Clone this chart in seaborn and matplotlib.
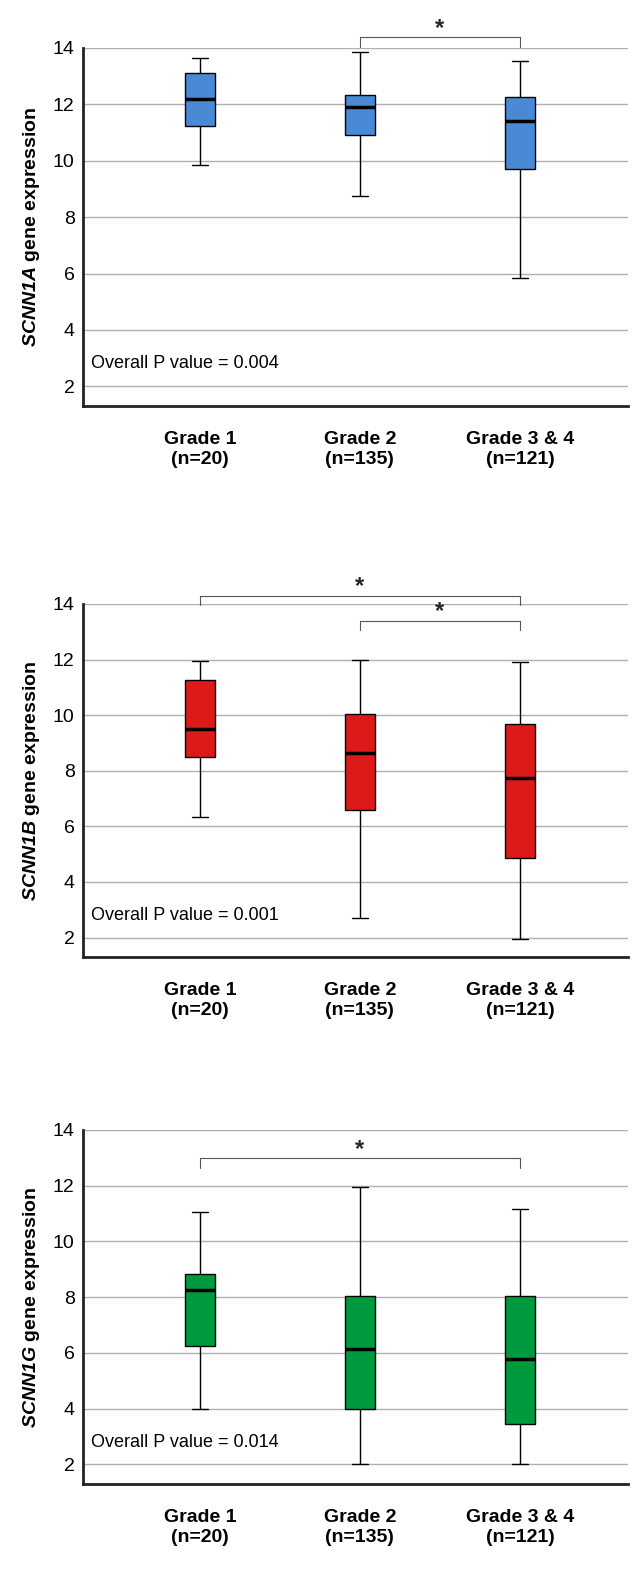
import numpy as np
import pandas as pd
import matplotlib
matplotlib.use("Agg")
import matplotlib.pyplot as plt
import seaborn as sns

sns.set_theme(style="white")
plt.rcParams['font.family'] = ['Liberation Sans', 'DejaVu Sans']
plt.rcParams['mathtext.fontset'] = 'custom'
plt.rcParams['mathtext.it'] = 'Liberation Sans:italic:bold'
plt.rcParams['mathtext.rm'] = 'Liberation Sans:italic:bold'

grades = ["Grade 1\n(n=20)", "Grade 2\n(n=135)", "Grade 3 & 4\n(n=121)"]
genes = ["SCNN1A", "SCNN1B", "SCNN1G"]
colors = ["#4a8ad4", "#dc1a1a", "#009a3e"]
p_values = ["0.004", "0.001", "0.014"]

# five-number summaries: min, q1, median, q3, max
scnn1a = [[9.85, 11.25, 12.2, 13.1, 13.65],
          [8.75, 10.9, 11.9, 12.35, 13.85],
          [5.85, 9.7, 11.4, 12.25, 13.55]]
scnn1b = [[6.35, 8.5, 9.5, 11.25, 11.95],
          [2.7, 6.6, 8.65, 10.05, 12.0],
          [1.95, 4.85, 7.75, 9.7, 11.9]]
scnn1g = [[4.0, 6.25, 8.25, 8.85, 11.05],
          [2.0, 4.0, 6.15, 8.05, 11.95],
          [2.0, 3.45, 5.8, 8.05, 11.15]]
summaries = [scnn1a, scnn1b, scnn1g]

# significance brackets: (from group, to group, height)
brackets = [[(1, 2, 14.4)],
            [(0, 2, 14.3), (1, 2, 13.4)],
            [(0, 2, 13.0)]]

# panel tops / bottoms in pixels
panels = [(48, 406), (604, 957), (1130, 1484)]
W, H = 636, 1592

fig = plt.figure(figsize=(W / 100, H / 100), dpi=100)
for i in range(3):
    top, bot = panels[i]
    ax = fig.add_axes([83 / W, 1 - bot / H, (628 - 83) / W, (bot - top) / H])
    rows = []
    for g, s in zip(grades, summaries[i]):
        for v in s:
            rows.append({"grade": g, "value": v})
    df = pd.DataFrame(rows)
    for y in range(2, 15, 2):
        ax.axhline(y, color="#b0b0b0", lw=1, zorder=0)
    sns.boxplot(data=df, x="grade", y="value", order=grades, whis=np.inf,
                width=0.19, color=colors[i], saturation=1, ax=ax,
                linecolor="black", linewidth=1,
                medianprops=dict(color="black", lw=2.5),
                capprops=dict(lw=1), capwidths=0.1)
    ax.set_xlim(-0.73, 2.675)
    ax.set_ylim(1.3, 14)
    ax.set_yticks(range(2, 15, 2))
    ax.tick_params(axis="y", labelsize=14, length=0, pad=6, labelcolor="black")
    ax.tick_params(axis="x", length=0, pad=18, labelcolor="black")
    for lab in ax.get_xticklabels():
        lab.set_fontweight("bold")
        lab.set_fontsize(14)
    ax.set_xlabel("")
    ax.set_ylabel(r"$\mathit{%s}$ gene expression" % genes[i],
                  fontsize=14, fontweight="bold", labelpad=8, color="black")
    for side in ["top", "right"]:
        ax.spines[side].set_visible(False)
    for side in ["left", "bottom"]:
        ax.spines[side].set_color("#222222")
        ax.spines[side].set_linewidth(2)
    ax.text(-0.68, 2.5, "Overall P value = " + p_values[i], fontsize=13,
            va="bottom", ha="left", color="black")
    for a, b, h in brackets[i]:
        ax.plot([a, a, b, b], [h - 0.35, h, h, h - 0.35], color="#555555",
                lw=0.8, clip_on=False)
        ax.text((a + b) / 2, h - 0.1, "*", fontsize=17, ha="center",
                va="bottom", fontweight="bold", clip_on=False)

fig.savefig("out.png", dpi=100)
